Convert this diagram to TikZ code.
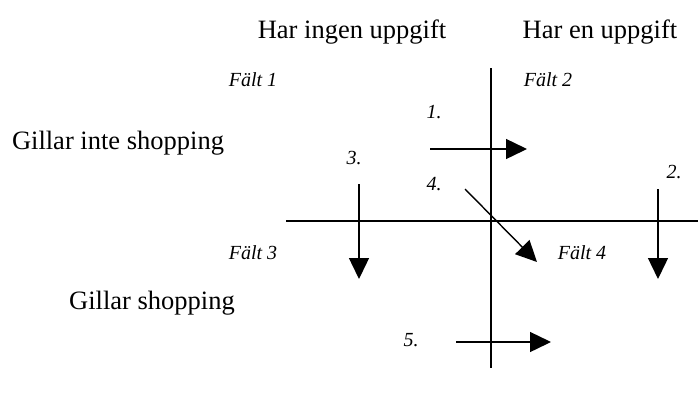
\documentclass[tikz,border=0pt]{standalone}
\usepackage{fontspec}
\setmainfont{Liberation Serif}
\usetikzlibrary{arrows.meta}
\begin{document}
\begin{tikzpicture}[x=1pt,y=-1pt,
  axis/.style={line width=1.5pt},
  move/.style={line width=1.4pt,-{Triangle[length=21pt,width=20pt]}},
  head/.style={font=\fontsize{26.5}{30}\selectfont,inner sep=0pt},
  field/.style={font=\fontsize{20}{24}\selectfont\itshape,inner sep=0pt},
  num/.style={font=\fontsize{20}{24}\selectfont\itshape,inner sep=0pt}]
\useasboundingbox (0,0) rectangle (698,397);

% column and row headings
\node[head] (colA) at (352,32) {Har ingen uppgift};
\node[head] (colB) at (600,32) {Har en uppgift};
\node[head] (rowA) at (118,143) {Gillar inte shopping};
\node[head] (rowB) at (152,303) {Gillar shopping};

% axes
\coordinate (vtop) at (491,68);
\coordinate (vbot) at (491,368);
\coordinate (hl) at (286,221);
\coordinate (hr) at (698,221);
\draw[axis] (vtop) -- (vbot);
\draw[axis] (hl) -- (hr);

% field labels
\node[field] (f1) at (253,80) {Fält 1};
\node[field] (f2) at (548,80) {Fält 2};
\node[field] (f3) at (253,253) {Fält 3};
\node[field] (f4) at (582,253) {Fält 4};

% movement labels
\node[num] (n1) at (434,112) {1.};
\node[num] (n2) at (674,172) {2.};
\node[num] (n3) at (354,158) {3.};
\node[num] (n4) at (434,184) {4.};
\node[num] (n5) at (411,340) {5.};

% movement arrows
\coordinate (a1s) at (430,149); \coordinate (a1e) at (527,149);
\coordinate (a2s) at (658,189); \coordinate (a2e) at (658,279);
\coordinate (a3s) at (359,184); \coordinate (a3e) at (359,279);
\coordinate (a4s) at (465,189); \coordinate (a4e) at (537,262);
\coordinate (a5s) at (456,342); \coordinate (a5e) at (551,342);
\draw[move] (a1s) -- (a1e);
\draw[move] (a2s) -- (a2e);
\draw[move] (a3s) -- (a3e);
\draw[move] (a4s) -- (a4e);
\draw[move] (a5s) -- (a5e);
\end{tikzpicture}
\end{document}
